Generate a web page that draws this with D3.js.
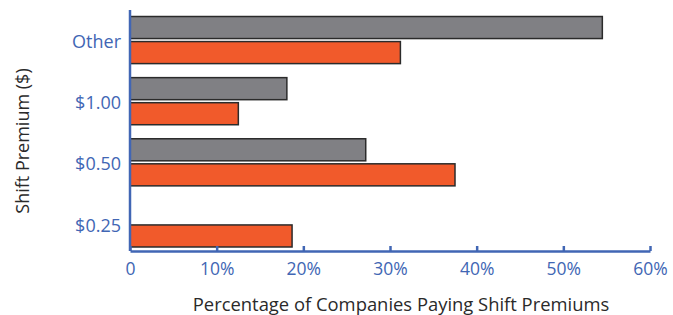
<!DOCTYPE html>
<html>
<head>
<meta charset="utf-8">
<script src="https://cdn.jsdelivr.net/npm/d3@7"></script>
<style>
  body { margin: 0; background: #fff; }
  text { font-family: "Open Sans", sans-serif; }
</style>
</head>
<body>
<div id="chart"></div>
<script>
var categories = ["Other", "$1.00", "$0.50", "$0.25"];
var seriesNames = ["gray", "orange"];
var grayValues = [0.545, 0.181, 0.272, 0];
var orangeValues = [0.312, 0.125, 0.375, 0.187];
var xTicks = [0, 0.1, 0.2, 0.3, 0.4, 0.5, 0.6];

var width = 673, height = 315;
var blue = "#4166b4";
var colors = { gray: "#808084", orange: "#f15a2b" };

var svg = d3.select("#chart").append("svg")
    .attr("width", width)
    .attr("height", height);

var x = d3.scaleLinear()
    .domain([0, 0.6])
    .range([130, 650]);

var y = d3.scaleBand()
    .domain(categories)
    .range([9.5, 254]);

var yInner = d3.scaleBand()
    .domain(seriesNames)
    .range([0, y.bandwidth()])
    .paddingInner(0.12)
    .paddingOuter(0.28);

var rows = categories.map(function(c, i) {
    return { cat: c, gray: grayValues[i], orange: orangeValues[i] };
});

// bars
var groups = svg.append("g")
    .selectAll("g")
    .data(rows)
    .enter().append("g")
    .attr("transform", function(d) { return "translate(0," + y(d.cat) + ")"; });

groups.selectAll("rect")
    .data(function(d) {
        return seriesNames.map(function(s) { return { key: s, value: d[s] }; })
            .filter(function(e) { return e.value > 0; });
    })
    .enter().append("rect")
    .attr("x", x(0))
    .attr("y", function(d) { return yInner(d.key); })
    .attr("width", function(d) { return x(d.value) - x(0); })
    .attr("height", yInner.bandwidth())
    .attr("fill", function(d) { return colors[d.key]; })
    .attr("stroke", "#2b2b2b")
    .attr("stroke-width", 1.5);

// x axis
var xAxis = d3.axisBottom(x)
    .tickValues(xTicks)
    .tickSizeInner(-5)
    .tickSizeOuter(0)
    .tickPadding(9)
    .tickFormat(function(d) { return d === 0 ? "0" : d3.format(".0%")(d); });

var gx = svg.append("g")
    .attr("transform", "translate(0,251)")
    .call(xAxis);
gx.select(".domain").attr("stroke", blue).attr("stroke-width", 2.5);
gx.selectAll(".tick line").attr("stroke", blue).attr("stroke-width", 2.5);
gx.selectAll(".tick text")
    .attr("fill", blue)
    .style("font-size", "17.5px")
    .attr("dy", "0.85em");

// y axis
var yAxis = d3.axisLeft(y).tickSize(0).tickPadding(9);
var gy = svg.append("g")
    .attr("transform", "translate(130,0)")
    .call(yAxis);
gy.select(".domain").remove();
gy.append("line")
    .attr("x1", 0).attr("x2", 0)
    .attr("y1", 10).attr("y2", 251)
    .attr("stroke", blue)
    .attr("stroke-width", 2.5);
gy.selectAll(".tick text")
    .attr("fill", blue)
    .attr("dy", "0.45em")
    .style("font-size", "18px");

// titles
svg.append("text")
    .attr("x", 401)
    .attr("y", 311)
    .attr("text-anchor", "middle")
    .attr("fill", "#2a2a2a")
    .style("font-size", "18.4px")
    .text("Percentage of Companies Paying Shift Premiums");

svg.append("text")
    .attr("transform", "translate(29,141) rotate(-90)")
    .attr("text-anchor", "middle")
    .attr("fill", "#2a2a2a")
    .style("font-size", "18px")
    .text("Shift Premium ($)");
</script>
</body>
</html>
